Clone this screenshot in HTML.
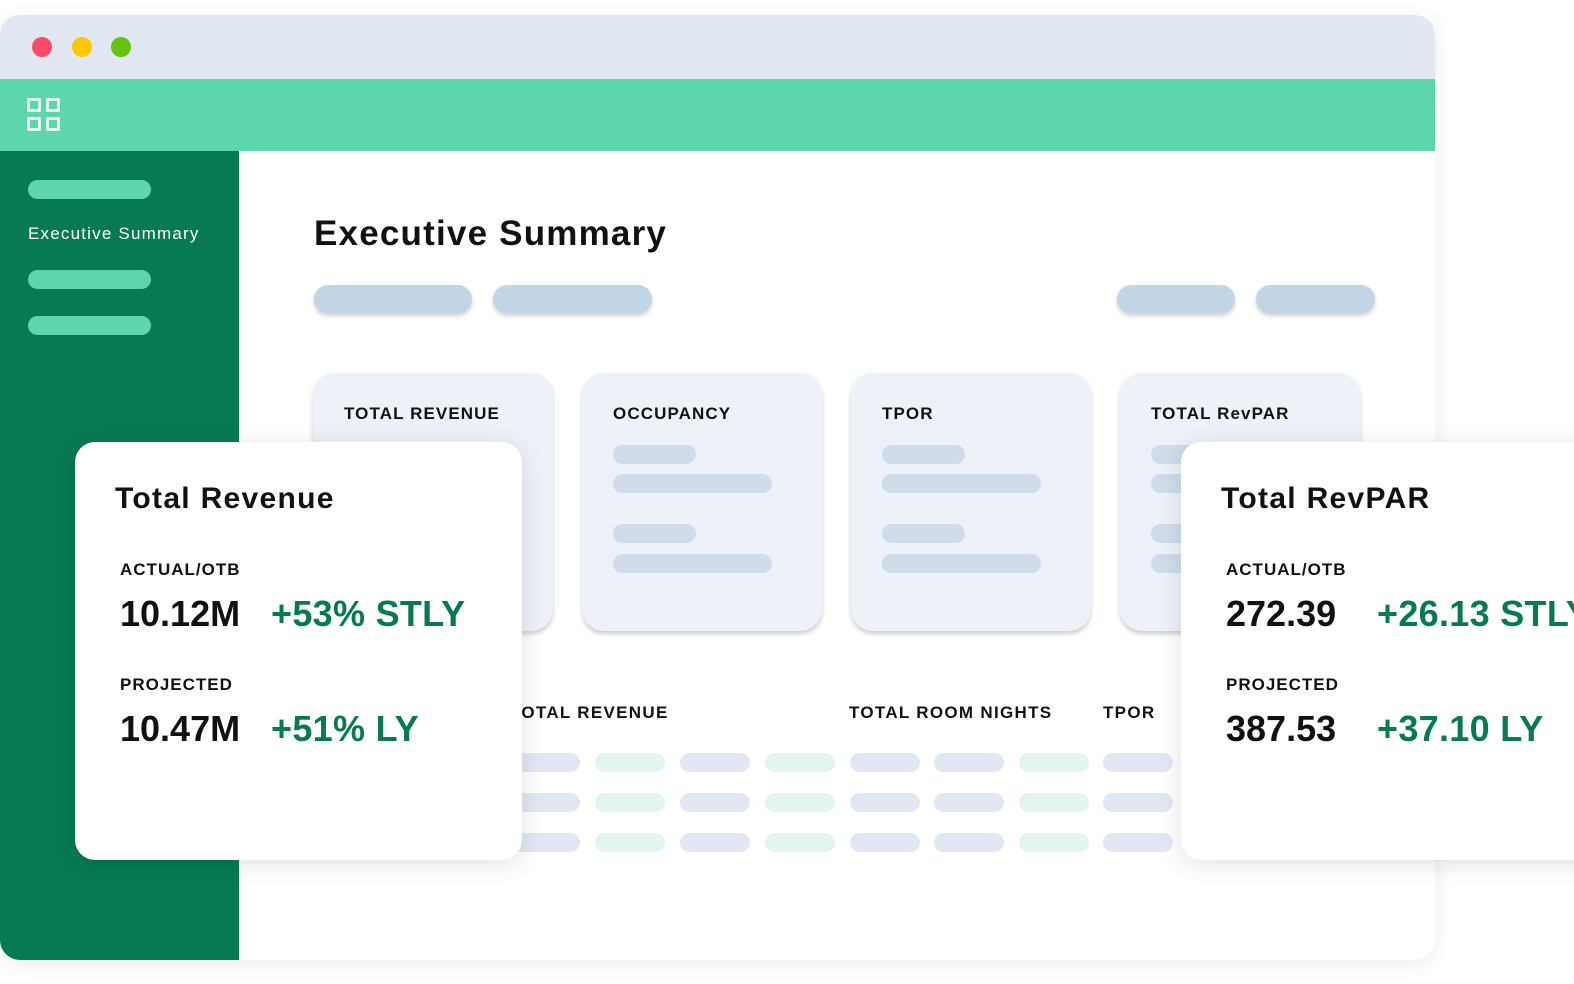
<!DOCTYPE html>
<html><head><style>
*{margin:0;padding:0;box-sizing:border-box}
body{width:1574px;height:984px;background:#fff;position:relative;overflow:hidden;font-family:"Liberation Sans",sans-serif;color:#111}
.a{position:absolute}
.win{left:0;top:15px;width:1435px;height:945px;border-radius:20px;overflow:hidden;box-shadow:0 4px 20px rgba(0,0,0,.08);background:#fff}
.dot{width:20px;height:20px;border-radius:50%;top:37px}
.sb{border-radius:10px;background:#5cd6aa;left:28px;width:123px;height:19px}
.pill{top:285px;height:28px;border-radius:14px;background:#c2d5e4;box-shadow:0 3px 4px rgba(0,0,0,.18)}
.card{top:373px;width:240px;height:258px;border-radius:22px;background:#edf1f8;box-shadow:0 3px 5px rgba(0,0,0,.2)}
.card .t{position:absolute;left:31px;top:31px;font-size:17px;font-weight:bold;letter-spacing:1.1px}
.cb{position:absolute;left:31px;height:19px;border-radius:10px;background:#d0dcea}
.tb{height:19px;width:70px;border-radius:10px}
.pop{top:442px;height:418px;border-radius:20px;background:#fff;box-shadow:0 4px 24px rgba(0,0,0,.12)}
.pop .h{position:absolute;left:40px;top:40px;font-size:30px;font-weight:bold;letter-spacing:1.3px}
.pop .l{position:absolute;left:45px;font-size:17px;font-weight:bold;letter-spacing:1px}
.pop .v{position:absolute;left:45px;font-size:36px;font-weight:bold}
.pop .g{position:absolute;font-size:36px;font-weight:bold;color:#077a51;letter-spacing:.3px}
.lab{font-size:17px;font-weight:bold;top:703px;letter-spacing:1.3px}
</style></head><body>
<div class="a win">
 <div class="a" style="left:0;top:0;width:1435px;height:64px;background:#e1e8f1"></div>
 <div class="a dot" style="left:32px;top:22px;background:#fb4b6a"></div>
 <div class="a dot" style="left:72px;top:22px;background:#fec603"></div>
 <div class="a dot" style="left:111px;top:22px;background:#65c30b"></div>
 <div class="a" style="left:0;top:64px;width:1435px;height:72px;background:#5cd6aa"></div>
 <svg class="a" style="left:27px;top:83px" width="35" height="35"><g fill="none" stroke="#fff" stroke-width="2.5"><rect x="1.5" y="1.5" width="11" height="11"/><rect x="20.5" y="1.5" width="11" height="11"/><rect x="1.5" y="20.5" width="11" height="11"/><rect x="20.5" y="20.5" width="11" height="11"/></g></svg>
 <div class="a" style="left:0;top:136px;width:239px;height:809px;background:#077a51"></div>
</div>
<div class="a sb" style="top:180px"></div>
<div class="a" style="left:28px;top:224px;color:#fff;font-size:17px;letter-spacing:1.2px">Executive Summary</div>
<div class="a sb" style="top:270px"></div>
<div class="a sb" style="top:316px"></div>
<div class="a" style="left:314px;top:214px;font-size:35px;font-weight:bold;letter-spacing:1.2px">Executive Summary</div>
<div class="a pill" style="left:314px;width:158px"></div>
<div class="a pill" style="left:493px;width:159px"></div>
<div class="a pill" style="left:1117px;width:118px"></div>
<div class="a pill" style="left:1256px;width:119px"></div>
<div class="a card" style="left:313px"><div class="t">TOTAL REVENUE</div></div>
<div class="a card" style="left:582px"><div class="t">OCCUPANCY</div><div class="cb" style="top:72px;width:83px"></div><div class="cb" style="top:101px;width:159px"></div><div class="cb" style="top:151px;width:83px"></div><div class="cb" style="top:181px;width:159px"></div></div>
<div class="a card" style="left:851px"><div class="t">TPOR</div><div class="cb" style="top:72px;width:83px"></div><div class="cb" style="top:101px;width:159px"></div><div class="cb" style="top:151px;width:83px"></div><div class="cb" style="top:181px;width:159px"></div></div>
<div class="a card" style="left:1120px"><div class="t">TOTAL RevPAR</div><div class="cb" style="top:72px;width:83px"></div><div class="cb" style="top:101px;width:159px"></div><div class="cb" style="top:151px;width:83px"></div><div class="cb" style="top:181px;width:159px"></div></div>
<div class="a lab" style="left:510px">TOTAL REVENUE</div>
<div class="a lab" style="left:849px">TOTAL ROOM NIGHTS</div>
<div class="a lab" style="left:1103px">TPOR</div>
<div id="tbl"></div>
<script>
var xs=[510,595,680,765,850,934,1019,1103],cs=['#e1e8f3','#e3f5ee','#e1e8f3','#e3f5ee','#e1e8f3','#e1e8f3','#e3f5ee','#e1e8f3'],h='';
[753,793,833].forEach(function(y){xs.forEach(function(x,i){h+='<div class="a tb" style="left:'+x+'px;top:'+y+'px;background:'+cs[i]+'"></div>'})});
document.getElementById('tbl').innerHTML=h;
</script>
<div class="a pop" style="left:75px;width:447px">
 <div class="h">Total Revenue</div>
 <div class="l" style="top:118px">ACTUAL/OTB</div>
 <div class="v" style="top:151px">10.12M</div><div class="g" style="left:196px;top:151px">+53% STLY</div>
 <div class="l" style="top:233px">PROJECTED</div>
 <div class="v" style="top:266px">10.47M</div><div class="g" style="left:196px;top:266px">+51% LY</div>
</div>
<div class="a pop" style="left:1181px;width:440px">
 <div class="h">Total RevPAR</div>
 <div class="l" style="top:118px">ACTUAL/OTB</div>
 <div class="v" style="top:151px">272.39</div><div class="g" style="left:196px;top:151px;white-space:nowrap">+26.13 STLY</div>
 <div class="l" style="top:233px">PROJECTED</div>
 <div class="v" style="top:266px">387.53</div><div class="g" style="left:196px;top:266px">+37.10 LY</div>
</div>
</body></html>
